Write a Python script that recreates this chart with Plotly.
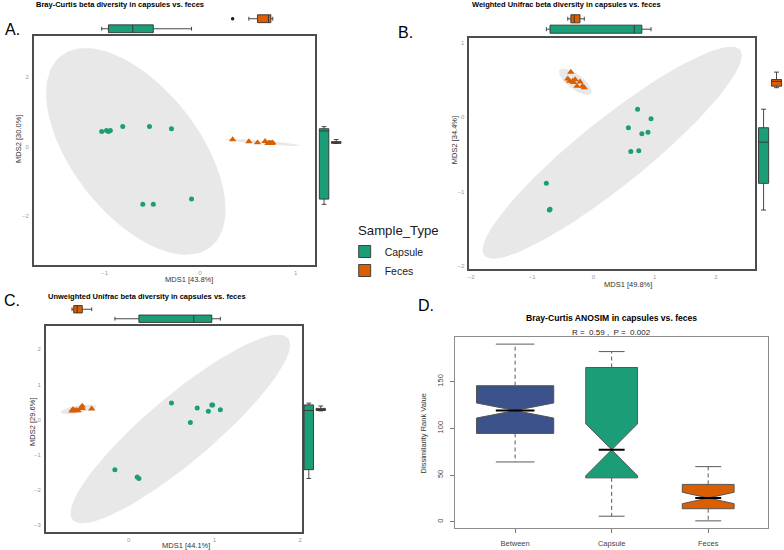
import numpy as np
import plotly.graph_objects as go

W, H = 784, 550
FONT = "Liberation Sans, Arial, sans-serif"
GROUPS = ["Capsule", "Feces"]
GROUP_COLORS = {"Capsule": "#1B9E77", "Feces": "#D95F02"}
GROUP_SYMBOLS = {"Capsule": "circle", "Feces": "triangle-up"}
ELLIPSE_FILL = "#E8E8E8"

# ---------------- data ----------------
# Panel A: Bray-Curtis ordination
a_capsule_x = [-1.03, -0.98, -0.96, -0.94, -0.81, -0.53, -0.30, -0.60, -0.49, -0.09]
a_capsule_y = [0.43, 0.46, 0.43, 0.46, 0.57, 0.57, 0.51, -1.66, -1.66, -1.51]
a_feces_x = [0.34, 0.51, 0.60, 0.68, 0.71, 0.72, 0.73, 0.74, 0.75, 0.76]
a_feces_y = [0.20, 0.14, 0.11, 0.15, 0.09, 0.10, 0.09, 0.10, 0.09, 0.11]

# Panel B: Weighted Unifrac ordination
b_capsule_x = [0.72, 0.94, 0.57, 0.79, 0.89, 0.61, 0.74, -0.77, -0.71, -0.72]
b_capsule_y = [0.11, -0.02, -0.14, -0.22, -0.20, -0.46, -0.45, -0.89, -1.24, -1.25]
b_feces_x = [-0.37, -0.42, -0.39, -0.34, -0.30, -0.22, -0.27, -0.18, -0.15, -0.33]
b_feces_y = [0.61, 0.52, 0.49, 0.49, 0.51, 0.48, 0.42, 0.42, 0.40, 0.47]

# Panel C: Unweighted Unifrac ordination
c_capsule_x = [0.50, 0.80, 0.97, 0.98, 0.93, 1.07, 0.72, -0.16, 0.10, 0.12]
c_capsule_y = [0.47, 0.33, 0.42, 0.42, 0.24, 0.28, -0.08, -1.42, -1.63, -1.67]
c_feces_x = [-0.66, -0.65, -0.64, -0.63, -0.61, -0.59, -0.55, -0.54, -0.54, -0.43]
c_feces_y = [0.25, 0.29, 0.27, 0.26, 0.27, 0.26, 0.35, 0.39, 0.32, 0.31]

# Panel D: ANOSIM rank dissimilarities (box statistics)
d_groups = ["Between", "Capsule", "Feces"]
d_n = [100, 45, 45]
d_lower = [64, 6, 1]
d_q1 = [94.5, 47, 14]
d_median = [119, 77, 25.5]
d_q3 = [145.5, 165, 40]
d_upper = [190, 182, 59]
d_colors = ["#3B528B", "#1B9E77", "#D95F02"]
d_ticks = [0, 50, 100, 150]

# ---------------- helpers ----------------
def xdom(a, b):
    return [max(0, a / W), min(1, b / W)]

def ydom(top, bottom):
    return [max(0, 1 - bottom / H), min(1, 1 - top / H)]

def ellipse(x, y, level=0.95, segments=100):
    x = np.asarray(x, float)
    y = np.asarray(y, float)
    n = len(x)
    center = np.array([x.mean(), y.mean()])
    cov = np.cov(np.vstack([x, y]))
    dfd = n - 1
    fq = dfd / 2.0 * ((1 - level) ** (-2.0 / dfd) - 1)  # F(0.95; 2, n-1)
    radius = np.sqrt(2 * fq)
    t = np.linspace(0, 2 * np.pi, segments)
    circle = np.column_stack([np.cos(t), np.sin(t)])
    U = np.linalg.cholesky(cov).T
    pts = center + radius * (circle @ U)
    return pts[:, 0], pts[:, 1]

def axname(i):
    return ("x", "y") if i == 1 else (f"x{i}", f"y{i}")

def laykey(i):
    return ("xaxis", "yaxis") if i == 1 else (f"xaxis{i}", f"yaxis{i}")

fig = go.Figure()
layout = {}
annotations = []

def ann(text, x, y, size, xanchor="center", color="#000000", angle=0, bold=False):
    if bold:
        text = f"<b>{text}</b>"
    annotations.append(dict(text=text, x=x / W, y=1 - y / H, xref="paper", yref="paper",
                            xanchor=xanchor, yanchor="middle", showarrow=False,
                            textangle=angle, font=dict(size=size, color=color, family=FONT)))

panels = [
    dict(idx=1, data=(a_capsule_x, a_capsule_y, a_feces_x, a_feces_y),
         box=(32, 36, 314, 265), xr=[-1.74, 1.20], yr=[-3.40, 3.17],
         xt=[-1, 0, 1], yt=[-2, 0, 2], top=(13.7, 33.8), right=(317.2, 341.6), legend=True),
    dict(idx=4, data=(b_capsule_x, b_capsule_y, b_feces_x, b_feces_y),
         box=(469, 38, 756, 269), xr=[-2.03, 2.64], yr=[-2.045, 1.07],
         xt=[-2, -1, 0, 1, 2], yt=[-2, -1, 0, 1], top=(13.6, 34.4), right=(758, 784), legend=False),
    dict(idx=7, data=(c_capsule_x, c_capsule_y, c_feces_x, c_feces_y),
         box=(44, 326, 301, 532), xr=[-0.965, 2.02], yr=[-3.19, 2.66],
         xt=[0, 1, 2], yt=[-3, -2, -1, 0, 1, 2], top=(304.5, 323.5), right=(302, 326), legend=False),
]

for p in panels:
    i = p["idx"]
    cx, cy, fx, fy = p["data"]
    gx = {"Capsule": cx, "Feces": fx}
    gy = {"Capsule": cy, "Feces": fy}
    l, t, r, b = p["box"]
    xm, ym = axname(i)
    xt_, yt_ = axname(i + 1)
    xr_, yr_ = axname(i + 2)
    # ellipses
    for g in GROUPS:
        ex, ey = ellipse(gx[g], gy[g])
        fig.add_trace(go.Scatter(x=ex, y=ey, mode="lines", fill="toself", fillcolor=ELLIPSE_FILL,
                                 line=dict(width=0), hoverinfo="skip", showlegend=False,
                                 xaxis=xm, yaxis=ym))
    # points
    for g in GROUPS:
        fig.add_trace(go.Scatter(x=gx[g], y=gy[g], mode="markers", showlegend=False,
                                 marker=dict(color=GROUP_COLORS[g], symbol=GROUP_SYMBOLS[g],
                                             size=5 if g == "Capsule" else 6.5, line=dict(width=0)),
                                 xaxis=xm, yaxis=ym))
    # marginal boxes
    for k, g in enumerate(GROUPS):
        common = dict(fillcolor=GROUP_COLORS[g], line=dict(color="#333333", width=0.9),
                      boxpoints="outliers", pointpos=0, jitter=0, width=0.78,
                      marker=dict(color="#1a1a1a", size=3.5), name=g, legendgroup=g)
        fig.add_trace(go.Box(x=gx[g], y0=k, orientation="h", xaxis=xt_, yaxis=yt_,
                             showlegend=p["legend"], **common))
        fig.add_trace(go.Box(y=gy[g], x0=k, orientation="v", xaxis=xr_, yaxis=yr_,
                             showlegend=False, **common))
    kx, ky = laykey(i)
    axis_common = dict(showgrid=False, zeroline=False, showline=True, mirror=True,
                       linecolor="#4d4d4d", linewidth=1.5, ticks="",
                       tickfont=dict(size=6, color="#9a9a9a", family=FONT))
    layout[kx] = dict(domain=xdom(l, r), range=p["xr"], tickvals=p["xt"], anchor=ym,
                      ticklabelstandoff=1, **axis_common)
    layout[ky] = dict(domain=ydom(t, b), range=p["yr"], tickvals=p["yt"], anchor=xm,
                      ticklabelstandoff=2, **axis_common)
    kx2, ky2 = laykey(i + 1)
    layout[kx2] = dict(domain=xdom(l, r), range=p["xr"], visible=False, anchor=yt_)
    layout[ky2] = dict(domain=ydom(*p["top"]), range=[-0.5, 1.5], visible=False, anchor=xt_)
    kx3, ky3 = laykey(i + 2)
    layout[kx3] = dict(domain=xdom(*p["right"]), range=[-0.5, 1.5], visible=False, anchor=yr_)
    layout[ky3] = dict(domain=ydom(t, b), range=p["yr"], visible=False, anchor=xr_)

# ---------------- Panel D ----------------
xD, yD = axname(10)
pos = [1, 2, 3]
maxn = max(d_n)
widths = [0.8 * np.sqrt(n / maxn) for n in d_n]
for j in range(3):
    iqr = d_q3[j] - d_q1[j]
    notch = 1.58 * iqr / np.sqrt(d_n[j])
    fig.add_trace(go.Box(x=[pos[j]], q1=[d_q1[j]], median=[d_median[j]], q3=[d_q3[j]],
                         lowerfence=[d_q1[j]], upperfence=[d_q3[j]], notched=True,
                         notchspan=[notch], notchwidth=0.5, width=widths[j], whiskerwidth=0,
                         fillcolor=d_colors[j], line=dict(color="#555555", width=1),
                         boxpoints=False, showlegend=False, xaxis=xD, yaxis=yD))
# whiskers (dashed), staples and median
wx, wy, sx, sy, mx, my = [], [], [], [], [], []
for j in range(3):
    p0 = pos[j]
    q = widths[j] / 4
    wx += [p0, p0, None, p0, p0, None]
    wy += [d_q3[j], d_upper[j], None, d_q1[j], d_lower[j], None]
    sx += [p0 - q, p0 + q, None, p0 - q, p0 + q, None]
    sy += [d_upper[j], d_upper[j], None, d_lower[j], d_lower[j], None]
    mx += [p0 - q, p0 + q, None]
    my += [d_median[j], d_median[j], None]
fig.add_trace(go.Scatter(x=wx, y=wy, mode="lines", line=dict(color="#5a5a5a", width=1, dash="4px,3px"),
                         showlegend=False, hoverinfo="skip", xaxis=xD, yaxis=yD))
fig.add_trace(go.Scatter(x=sx, y=sy, mode="lines", line=dict(color="#5a5a5a", width=1),
                         showlegend=False, hoverinfo="skip", xaxis=xD, yaxis=yD))
fig.add_trace(go.Scatter(x=mx, y=my, mode="lines", line=dict(color="#000000", width=2),
                         showlegend=False, hoverinfo="skip", xaxis=xD, yaxis=yD))

kxD, kyD = laykey(10)
d_axis = dict(showgrid=False, zeroline=False, showline=True, mirror=True, linecolor="#8c8c8c",
              linewidth=1, ticks="outside", ticklen=4, tickcolor="#777777",
              tickfont=dict(size=7.5, color="#444444", family=FONT))
layout[kxD] = dict(domain=xdom(455, 769), range=[0.38, 3.62], tickvals=pos, ticktext=d_groups,
                   anchor=yD, ticklabelstandoff=4, **d_axis)
layout[kyD] = dict(domain=ydom(337, 528), range=[-6.6, 197.6], tickvals=d_ticks, tickangle=-90,
                   anchor=xD, ticklabelstandoff=4, **d_axis)

# ---------------- text ----------------
TT = 7.5
ann("Bray-Curtis beta diversity in capsules vs. feces", 32, 5, TT, "left", bold=True)
ann("Weighted Unifrac beta diversity in capsules vs. feces", 470, 5, TT, "left", bold=True)
ann("Unweighted Unifrac beta diversity in capsules vs. feces", 44, 296, TT, "left", bold=True)
ann("A.", 1, 29, 16, "left")
ann("B.", 396, 32, 16, "left")
ann("C.", 0, 300, 16, "left")
ann("D.", 416, 305, 16, "left")
AT = 7.5
ACOL = "#333333"
ann("MDS1 [43.8%]", 188, 280, AT, color=ACOL)
ann("MDS2 [30.0%]", 17, 139, AT, color=ACOL, angle=-90)
ann("MDS1 [49.8%]", 628, 284, AT, color=ACOL)
ann("MDS2 [34.4%]", 455, 140, AT, color=ACOL, angle=-90)
ann("MDS1 [44.1%]", 185, 545, AT, color=ACOL)
ann("MDS2 [29.6%]", 31, 422, AT, color=ACOL, angle=-90)
ann("Bray-Curtis ANOSIM in capsules vs. feces", 612, 318, 8.6, bold=True)
ann("R =  0.59 ,  P =  0.002", 612, 332, 8, color="#222222")
ann("Dissimilarity Rank Value", 423, 433, 7.5, color="#333333", angle=-90)
ann("Sample_Type", 355, 230, 13.2, "left", color="#1a1a1a")

fig.update_layout(
    width=W, height=H, autosize=False,
    margin=dict(l=0, r=0, t=0, b=0),
    paper_bgcolor="white", plot_bgcolor="white",
    font=dict(family=FONT),
    annotations=annotations,
    showlegend=True,
    legend=dict(x=344 / W, y=1 - 237 / H, xanchor="left", yanchor="top",
                font=dict(size=10.5, color="#1a1a1a", family=FONT),
                bgcolor="rgba(0,0,0,0)", tracegroupgap=0),
    **layout,
)

fig.write_html("out.html", config={"displayModeBar": False},
               post_script="document.body.style.margin='0px';document.body.style.padding='0px';")
